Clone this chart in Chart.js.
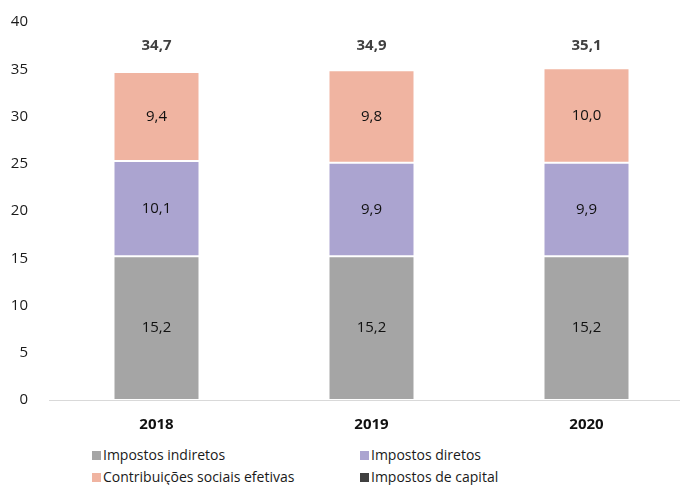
<!DOCTYPE html>
<html>
<head>
<meta charset="utf-8">
<script src="https://cdn.jsdelivr.net/npm/chart.js@4/dist/chart.umd.min.js"></script>
<style>
  body { margin: 0; background: #fff; overflow: hidden; }
  #wrap { width: 680px; height: 485px; overflow: hidden; position: relative; }
  #legend { position: absolute; left: 0; top: 445px; width: 680px; font-family: "Open Sans", sans-serif; font-size: 14px; color: #1a1a1a; }
  .item { position: absolute; white-space: nowrap; line-height: 20px; }
  .box { display: inline-block; width: 9px; height: 9px; margin-right: 2px; vertical-align: 0px; }
</style>
</head>
<body>
<div id="wrap">
  <canvas id="chart" width="694" height="440"></canvas>
  <div id="legend"></div>
</div>
<script>
// dados
var years = ["2018", "2019", "2020"];
var indiretos = [15.2, 15.2, 15.2];
var diretos = [10.1, 9.9, 9.9];
var contribuicoes = [9.4, 9.8, 10.0];
var capital = [0.0, 0.0, 0.0];
var totais = [34.7, 34.9, 35.1];
var yTicks = [0, 5, 10, 15, 20, 25, 30, 35, 40];

var fontFam = "'Open Sans', sans-serif";

function fmt(v) {
  return v.toFixed(1).replace(".", ",");
}

var seriesNames = ["Impostos indiretos", "Impostos diretos", "Contribuições sociais efetivas", "Impostos de capital"];
var seriesColors = ["#a5a5a5", "#aba4d0", "#f0b4a1", "#404040"];
var seriesData = [indiretos, diretos, contribuicoes, capital];

var datasets = [];
for (var i = 0; i < seriesNames.length; i++) {
  datasets.push({
    label: seriesNames[i],
    data: seriesData[i],
    backgroundColor: seriesColors[i],
    borderColor: "rgba(255,255,255,0.35)",
    borderWidth: 1,
    borderSkipped: false
  });
}

// rotulos dentro das barras e totais
var labelsPlugin = {
  id: "labels",
  afterDatasetsDraw: function(chart) {
    var ctx = chart.ctx;
    ctx.save();
    ctx.textAlign = "center";
    ctx.textBaseline = "middle";
    ctx.font = "15px " + fontFam;
    ctx.fillStyle = "#111";
    for (var d = 0; d < 3; d++) {
      var meta = chart.getDatasetMeta(d);
      meta.data.forEach(function(bar, j) {
        var v = chart.data.datasets[d].data[j];
        ctx.fillText(fmt(v), bar.x, (bar.y + bar.base) / 2);
      });
    }
    var yScale = chart.scales.y;
    var meta0 = chart.getDatasetMeta(0);
    ctx.font = "bold 15px " + fontFam;
    ctx.fillStyle = "#404040";
    meta0.data.forEach(function(bar, j) {
      ctx.fillText(fmt(totais[j]), bar.x, yScale.getPixelForValue(37.5));
    });
    ctx.restore();
  }
};

var chart = new Chart(document.getElementById("chart"), {
  type: "bar",
  data: { labels: years, datasets: datasets },
  options: {
    responsive: false,
    animation: false,
    layout: { padding: { top: 20, right: 0, left: 0, bottom: 0 } },
    plugins: { legend: { display: false }, tooltip: { enabled: false } },
    datasets: { bar: { categoryPercentage: 1, barPercentage: 0.4 } },
    scales: {
      x: {
        stacked: true,
        grid: { display: false },
        border: { color: "#d9d9d9", width: 1 },
        ticks: { color: "#111", font: { family: fontFam, size: 15, weight: "bold" }, padding: 8 },
        afterFit: function(s) { s.height = 40; }
      },
      y: {
        stacked: true,
        min: 0,
        max: 40,
        afterBuildTicks: function(s) { s.ticks = yTicks.map(function(v) { return { value: v }; }); },
        grid: { display: false },
        border: { display: false },
        ticks: { color: "#1a1a1a", font: { family: fontFam, size: 15 }, padding: 13 },
        afterFit: function(s) { s.width = 49; }
      }
    }
  },
  plugins: [labelsPlugin]
});

// legenda
var legendPos = [[92, 0], [360, 0], [92, 22], [360, 22]];
var legend = document.getElementById("legend");
for (var k = 0; k < seriesNames.length; k++) {
  var el = document.createElement("div");
  el.className = "item";
  el.style.left = legendPos[k][0] + "px";
  el.style.top = legendPos[k][1] + "px";
  el.innerHTML = '<span class="box" style="background:' + seriesColors[k] + '"></span>' + seriesNames[k];
  legend.appendChild(el);
}
</script>
</body>
</html>
